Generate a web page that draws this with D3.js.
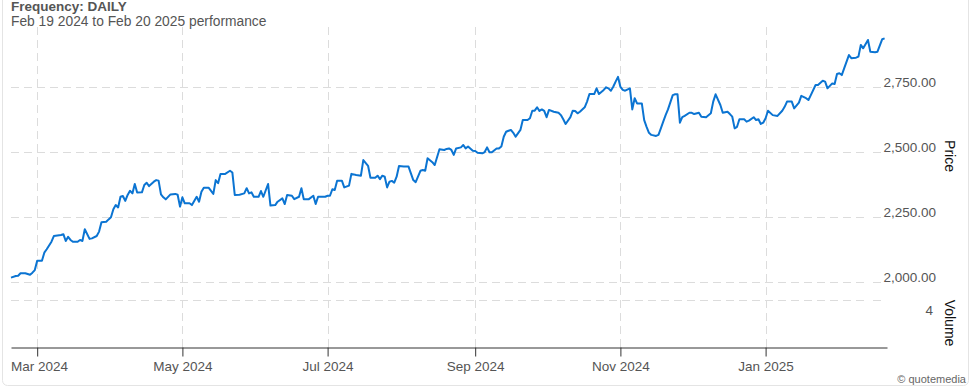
<!DOCTYPE html>
<html>
<head>
<meta charset="utf-8">
<script src="https://cdn.jsdelivr.net/npm/d3@7"></script>
<style>
  body { margin: 0; background: #fff; }
  svg text { font-family: 'Liberation Sans', Arial, Helvetica, sans-serif; }
</style>
</head>
<body>
<svg id="chart" width="980" height="390"></svg>
<script>
// daily closes
const dates = [
  '2024-02-19','2024-02-21','2024-02-22','2024-02-23','2024-02-25','2024-02-27','2024-02-28','2024-02-29',
  '2024-03-01','2024-03-03','2024-03-04','2024-03-05','2024-03-07','2024-03-08','2024-03-11','2024-03-12','2024-03-13','2024-03-14','2024-03-15','2024-03-16','2024-03-18','2024-03-19','2024-03-20','2024-03-21','2024-03-23','2024-03-24','2024-03-26','2024-03-27','2024-03-28','2024-03-30','2024-03-31',
  '2024-04-01','2024-04-02','2024-04-03','2024-04-04','2024-04-05','2024-04-06','2024-04-07','2024-04-08','2024-04-09','2024-04-10','2024-04-11','2024-04-12','2024-04-14','2024-04-15','2024-04-16','2024-04-17','2024-04-19','2024-04-20','2024-04-21','2024-04-22','2024-04-23','2024-04-24','2024-04-26','2024-04-28','2024-04-29','2024-04-30',
  '2024-05-01','2024-05-02','2024-05-04','2024-05-05','2024-05-07','2024-05-08','2024-05-09','2024-05-10','2024-05-12','2024-05-14','2024-05-15','2024-05-16','2024-05-17','2024-05-19','2024-05-21','2024-05-22','2024-05-23','2024-05-25','2024-05-27','2024-05-28','2024-05-29','2024-05-30','2024-05-31',
  '2024-06-02','2024-06-03','2024-06-04','2024-06-06','2024-06-07','2024-06-09','2024-06-10','2024-06-12','2024-06-13','2024-06-14','2024-06-16','2024-06-17','2024-06-19','2024-06-20','2024-06-21','2024-06-23','2024-06-25','2024-06-26','2024-06-27','2024-06-30',
  '2024-07-01','2024-07-02','2024-07-03','2024-07-04','2024-07-05','2024-07-07','2024-07-08','2024-07-10','2024-07-11','2024-07-13','2024-07-15','2024-07-16','2024-07-18','2024-07-19','2024-07-21','2024-07-22','2024-07-23','2024-07-24','2024-07-25','2024-07-26','2024-07-27','2024-07-28','2024-07-29','2024-07-30','2024-07-31',
  '2024-08-02','2024-08-04','2024-08-06','2024-08-07','2024-08-09','2024-08-10','2024-08-11','2024-08-12','2024-08-14','2024-08-15','2024-08-17','2024-08-19','2024-08-20','2024-08-21','2024-08-22','2024-08-23','2024-08-24','2024-08-26','2024-08-27','2024-08-28','2024-08-29','2024-08-31',
  '2024-09-01','2024-09-02','2024-09-04','2024-09-05','2024-09-06','2024-09-07','2024-09-08','2024-09-10','2024-09-11','2024-09-12','2024-09-13','2024-09-14','2024-09-15','2024-09-16','2024-09-17','2024-09-18','2024-09-20','2024-09-21','2024-09-23','2024-09-24','2024-09-25','2024-09-26','2024-09-27','2024-09-28','2024-09-29','2024-09-30',
  '2024-10-01','2024-10-02','2024-10-04','2024-10-06','2024-10-07','2024-10-08','2024-10-09','2024-10-11','2024-10-12','2024-10-13','2024-10-14','2024-10-15','2024-10-17','2024-10-18','2024-10-19','2024-10-21','2024-10-22','2024-10-23','2024-10-25','2024-10-26','2024-10-27','2024-10-28','2024-10-29','2024-10-30','2024-10-31',
  '2024-11-01','2024-11-02','2024-11-03','2024-11-05','2024-11-06','2024-11-07','2024-11-08','2024-11-10','2024-11-11','2024-11-12','2024-11-13','2024-11-14','2024-11-16','2024-11-17','2024-11-18','2024-11-19','2024-11-20','2024-11-21','2024-11-23','2024-11-24','2024-11-25','2024-11-26','2024-11-27','2024-11-28','2024-11-30',
  '2024-12-01','2024-12-02','2024-12-04','2024-12-05','2024-12-07','2024-12-09','2024-12-10','2024-12-11','2024-12-13','2024-12-14','2024-12-16','2024-12-17','2024-12-18','2024-12-19','2024-12-20','2024-12-21','2024-12-23','2024-12-24','2024-12-25','2024-12-27','2024-12-28','2024-12-29','2024-12-30','2024-12-31',
  '2025-01-01','2025-01-02','2025-01-04','2025-01-06','2025-01-08','2025-01-09','2025-01-10','2025-01-12','2025-01-13','2025-01-15','2025-01-16','2025-01-18','2025-01-19','2025-01-20','2025-01-22','2025-01-23','2025-01-25','2025-01-26','2025-01-27','2025-01-29','2025-01-30','2025-01-31',
  '2025-02-01','2025-02-02','2025-02-03','2025-02-05','2025-02-06','2025-02-08','2025-02-09','2025-02-10','2025-02-11','2025-02-13','2025-02-14','2025-02-16','2025-02-17','2025-02-19','2025-02-20'
];
const closes = [
  2018,2024,2025,2035,2035,2029,2037,2047,
  2083,2083,2114,2127,2156,2178,2182,2185,2159,2175,2163,2156,2156,2163,2159,2204,2167,2169,2178,2195,2231,2233,2242,
  2250,2281,2297,2288,2329,2332,2313,2336,2352,2342,2378,2345,2346,2374,2383,2370,2387,2393,2391,2338,2327,2319,2338,2340,2337,2291,
  2327,2304,2304,2297,2329,2310,2348,2364,2364,2340,2393,2381,2417,2417,2429,2422,2336,2337,2342,2362,2342,2346,2329,
  2329,2351,2329,2378,2295,2297,2310,2323,2301,2336,2333,2320,2329,2362,2319,2319,2333,2301,2329,2329,
  2333,2333,2358,2355,2391,2391,2365,2372,2417,2413,2410,2470,2448,2402,2402,2410,2397,2410,2406,2365,2387,2390,2383,2406,2447,
  2445,2445,2393,2385,2429,2432,2429,2477,2462,2451,2512,2509,2513,2515,2509,2490,2515,2519,2528,2515,2522,2506,
  2505,2498,2496,2501,2519,2500,2500,2515,2515,2522,2560,2579,2583,2586,2575,2560,2586,2624,2624,2631,2660,2660,2673,2659,2665,2659,
  2635,2663,2656,2652,2643,2627,2609,2635,2660,2659,2650,2656,2673,2695,2724,2724,2746,2724,2740,2750,2746,2737,2752,2772,2790,
  2752,2740,2737,2746,2665,2708,2688,2688,2624,2598,2575,2567,2563,2567,2592,2618,2643,2665,2720,2723,2723,2614,2635,2640,2652,
  2652,2647,2652,2637,2635,2650,2695,2723,2682,2652,2656,2647,2637,2592,2598,2627,2627,2618,2622,2635,2624,2627,2609,2614,
  2631,2660,2643,2640,2660,2675,2695,2695,2669,2691,2717,2708,2701,2720,2759,2759,2775,2772,2746,2765,2763,2801,
  2804,2797,2823,2874,2862,2864,2868,2913,2900,2932,2887,2885,2887,2935,2938
];
const priceTicks = [2000, 2250, 2500, 2750];
const volumeTicks = [4];
const titleText = 'Frequency: DAILY';
const subtitleText = 'Feb 19 2024 to Feb 20 2025 performance';

const parse = d3.timeParse('%Y-%m-%d');
const data = dates.map((d, i) => ({ date: parse(d), close: closes[i] }));

const svg = d3.select('#chart');
const plotLeft = 11, plotRight = 887, plotTop = 27, axisY = 347.5;

const x = d3.scaleTime()
  .domain([parse('2024-02-19'), parse('2025-02-21')])
  .range([plotLeft, plotRight]);
const y = d3.scaleLinear().domain([2000, 2750]).range([282.3, 87.3]);
const yVol = d3.scaleLinear().domain([0, 4]).range([axisY, 300]);

// outer frame
svg.append('rect')
  .attr('x', 2.5).attr('y', -10)
  .attr('width', 966).attr('height', 395.5)
  .attr('rx', 5)
  .attr('fill', 'none')
  .attr('stroke', '#e4e4e4');

const grid = svg.append('g')
  .attr('stroke', '#dcdcdc')
  .attr('stroke-dasharray', '8,5');

const monthTicks = x.ticks(d3.timeMonth.every(2));

grid.selectAll('.vgrid')
  .data(monthTicks)
  .enter().append('line')
  .attr('x1', d => Math.round(x(d)) + 0.5)
  .attr('x2', d => Math.round(x(d)) + 0.5)
  .attr('y1', plotTop)
  .attr('y2', axisY);

grid.selectAll('.hgrid')
  .data(priceTicks)
  .enter().append('line')
  .attr('x1', plotLeft).attr('x2', 867)
  .attr('y1', d => Math.round(y(d)) + 0.5)
  .attr('y2', d => Math.round(y(d)) + 0.5);

grid.selectAll('.vgridv')
  .data(volumeTicks)
  .enter().append('line')
  .attr('x1', plotLeft).attr('x2', 867)
  .attr('y1', d => Math.round(yVol(d)) + 0.5)
  .attr('y2', d => Math.round(yVol(d)) + 0.5);

// little tick marks before the labels
svg.selectAll('.ytick')
  .data(priceTicks.map(y).concat(volumeTicks.map(yVol)))
  .enter().append('line')
  .attr('x1', 873).attr('x2', 881)
  .attr('y1', d => Math.round(d) + 0.5)
  .attr('y2', d => Math.round(d) + 0.5)
  .attr('stroke', '#dcdcdc');

svg.selectAll('.ylabel')
  .data(priceTicks)
  .enter().append('text')
  .attr('x', 936)
  .attr('y', d => y(d))
  .attr('text-anchor', 'end')
  .attr('font-size', '13.5px')
  .attr('fill', '#555')
  .text(d3.format(',.2f'));

svg.selectAll('.vlabel')
  .data(volumeTicks)
  .enter().append('text')
  .attr('x', 933)
  .attr('y', d => yVol(d) + 15)
  .attr('text-anchor', 'end')
  .attr('font-size', '13.5px')
  .attr('fill', '#555')
  .text(d => d);

svg.append('text')
  .attr('transform', 'translate(945,156) rotate(90)')
  .attr('text-anchor', 'middle')
  .attr('font-size', '14px')
  .attr('fill', '#111')
  .text('Price');

svg.append('text')
  .attr('transform', 'translate(945,323) rotate(90)')
  .attr('text-anchor', 'middle')
  .attr('font-size', '14px')
  .attr('fill', '#111')
  .text('Volume');

// x axis
const xAxis = svg.append('g')
  .attr('transform', `translate(0,${axisY})`)
  .call(d3.axisBottom(x)
    .tickValues(monthTicks)
    .tickFormat(d3.timeFormat('%b %Y'))
    .tickSize(9)
    .tickSizeOuter(0)
    .tickPadding(5));
xAxis.select('.domain').attr('stroke', '#333');
xAxis.selectAll('.tick line').attr('stroke', '#333');
xAxis.selectAll('.tick text')
  .attr('font-size', '13.5px')
  .attr('font-family', "'Liberation Sans', Arial, sans-serif")
  .attr('fill', '#555')
  .each(function () {
    const w = this.getComputedTextLength();
    const tx = +d3.select(this.parentNode).attr('transform').match(/translate\(([-\d.]+)/)[1];
    if (tx - w / 2 < plotLeft) d3.select(this).attr('x', plotLeft - tx + w / 2);
  });

// price line
const line = d3.line()
  .x(d => x(d.date))
  .y(d => y(d.close));

svg.append('path')
  .datum(data)
  .attr('fill', 'none')
  .attr('stroke', '#0b74d2')
  .attr('stroke-width', 2)
  .attr('stroke-linejoin', 'round')
  .attr('d', line);

// titles
svg.append('text')
  .attr('x', 11).attr('y', 11)
  .attr('font-size', '13.5px')
  .attr('font-weight', 'bold')
  .attr('fill', '#555')
  .text(titleText);

svg.append('text')
  .attr('x', 11).attr('y', 25.5)
  .attr('font-size', '13.8px')
  .attr('fill', '#555')
  .text(subtitleText);

svg.append('text')
  .attr('x', 966).attr('y', 383)
  .attr('text-anchor', 'end')
  .attr('font-size', '11px')
  .attr('fill', '#666')
  .text('© quotemedia');
</script>
</body>
</html>
